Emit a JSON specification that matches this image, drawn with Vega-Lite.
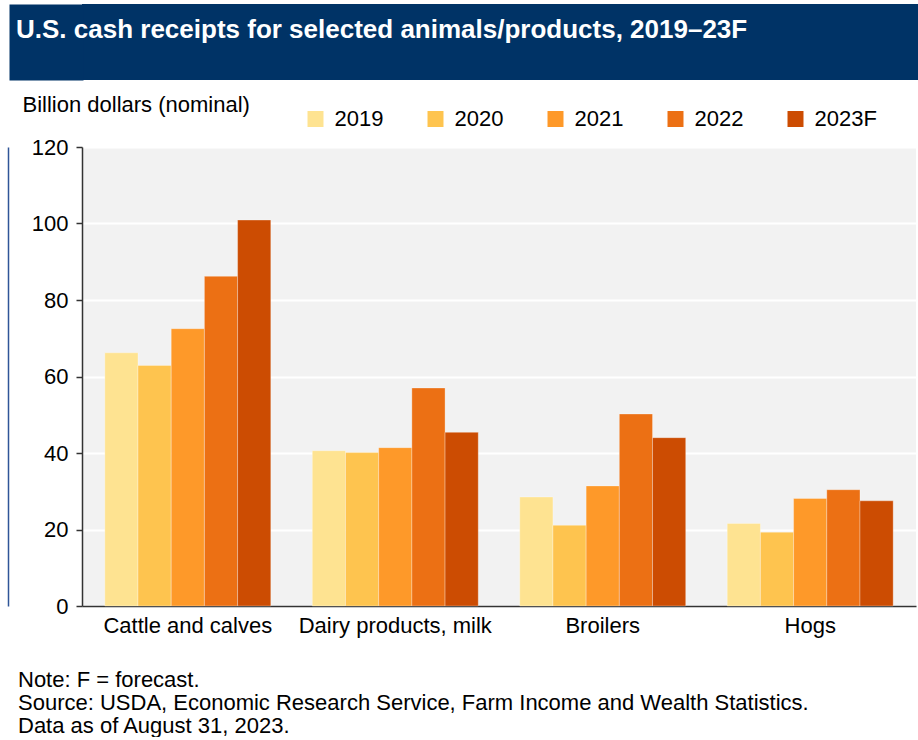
{
  "$schema": "https://vega.github.io/schema/vega-lite/v6.json",
  "padding": {"left": 8, "top": 4, "right": 0, "bottom": 0},
  "background": "white",
  "spacing": 13,
  "config": {"font": "Liberation Sans", "view": {"stroke": null}},
  "vconcat": [
    {
      "width": 836,
      "height": 76,
      "view": {"fill": "#003366", "stroke": null},
      "title": {
        "text": "U.S. cash receipts for selected animals/products, 2019–23F",
        "orient": "bottom", "anchor": "start", "frame": "group",
        "offset": -63, "dx": -66, "baseline": "top",
        "color": "white", "fontSize": 26, "fontWeight": "bold", "font": "Liberation Sans"
      },
      "data": {"values": []},
      "mark": "point",
      "encoding": {
        "y": {
          "field": "v", "type": "quantitative",
          "scale": {"domain": [0, 1]},
          "axis": {
            "orient": "left", "offset": 36,
            "domainColor": "#003366", "domainWidth": 74,
            "labels": false, "ticks": false, "grid": false, "title": null
          }
        }
      }
    },
    {
      "width": 834,
      "height": 459,
      "view": {"fill": "#F2F2F2", "stroke": null},
      "title": {
        "text": ["Note: F = forecast.", "Source: USDA, Economic Research Service, Farm Income and Wealth Statistics.", "Data as of August 31, 2023."],
        "orient": "bottom", "anchor": "start", "frame": "group",
        "offset": 34, "dx": -64, "baseline": "top", "lineHeight": 23,
        "color": "black", "fontSize": 22, "fontWeight": "normal", "font": "Liberation Sans"
      },
      "layer": [
        {
          "data": {
            "values": [
              {"cat": "Cattle and calves", "year": "2019", "v": 66.2},
              {"cat": "Cattle and calves", "year": "2020", "v": 62.9},
              {"cat": "Cattle and calves", "year": "2021", "v": 72.5},
              {"cat": "Cattle and calves", "year": "2022", "v": 86.2},
              {"cat": "Cattle and calves", "year": "2023F", "v": 100.9},
              {"cat": "Dairy products, milk", "year": "2019", "v": 40.6},
              {"cat": "Dairy products, milk", "year": "2020", "v": 40.1},
              {"cat": "Dairy products, milk", "year": "2021", "v": 41.4},
              {"cat": "Dairy products, milk", "year": "2022", "v": 57.0},
              {"cat": "Dairy products, milk", "year": "2023F", "v": 45.4},
              {"cat": "Broilers", "year": "2019", "v": 28.5},
              {"cat": "Broilers", "year": "2020", "v": 21.1},
              {"cat": "Broilers", "year": "2021", "v": 31.4},
              {"cat": "Broilers", "year": "2022", "v": 50.2},
              {"cat": "Broilers", "year": "2023F", "v": 44.0},
              {"cat": "Hogs", "year": "2019", "v": 21.6},
              {"cat": "Hogs", "year": "2020", "v": 19.3},
              {"cat": "Hogs", "year": "2021", "v": 28.1},
              {"cat": "Hogs", "year": "2022", "v": 30.4},
              {"cat": "Hogs", "year": "2023F", "v": 27.5}
            ]
          },
          "mark": {"type": "bar", "stroke": "white", "strokeOpacity": 0.3, "strokeWidth": 1},
          "encoding": {
            "x": {
              "field": "cat", "type": "nominal",
              "sort": ["Cattle and calves", "Dairy products, milk", "Broilers", "Hogs"],
              "scale": {"paddingInner": 0.2, "paddingOuter": 0.11},
              "axis": {
                "title": null, "labelAngle": 0, "ticks": false, "labelPadding": 9,
                "labelFontSize": 22, "labelColor": "black", "labelLimit": 0,
                "domainColor": "#333333", "domainWidth": 1.5, "grid": false
              }
            },
            "xOffset": {
              "field": "year", "type": "nominal",
              "sort": ["2019", "2020", "2021", "2022", "2023F"],
              "scale": {"paddingInner": 0, "paddingOuter": 0}
            },
            "y": {
              "field": "v", "type": "quantitative",
              "scale": {"domain": [0, 120], "nice": false},
              "axis": {
                "orient": "left",
                "values": [0, 20, 40, 60, 80, 100, 120],
                "title": "Billion dollars (nominal)",
                "titleAngle": 0, "titleAlign": "left", "titleBaseline": "top",
                "titleX": -60, "titleY": -52.5,
                "titleFontSize": 22, "titleFontWeight": "normal", "titleColor": "black",
                "labelFontSize": 22, "labelColor": "black", "labelPadding": 8,
                "tickSize": 6, "tickColor": "#333333", "tickWidth": 1.5,
                "domainColor": "#333333", "domainWidth": 1.5,
                "grid": true, "gridColor": "white", "gridWidth": 2
              }
            },
            "color": {
              "field": "year", "type": "nominal",
              "scale": {
                "domain": ["2019", "2020", "2021", "2022", "2023F"],
                "range": ["#fee391", "#fec44f", "#fe9929", "#ec7014", "#cc4c02"]
              },
              "legend": {
                "title": null, "orient": "none", "legendX": 222.5, "legendY": 104,
                "direction": "horizontal", "columns": 5, "gridAlign": "all",
                "columnPadding": 27, "padding": 0,
                "symbolType": "square", "symbolSize": 256, "symbolStrokeWidth": 0,
                "labelFontSize": 22, "labelOffset": 8, "labelColor": "black"
              }
            }
          }
        },
        {
          "data": {"values": []},
          "mark": "point",
          "encoding": {
            "y": {
              "field": "v", "type": "quantitative",
              "axis": {
                "orient": "left", "offset": 74,
                "domainColor": "#2F5597", "domainWidth": 1.5,
                "labels": false, "ticks": false, "grid": false, "title": null
              }
            }
          }
        }
      ],
      "resolve": {"axis": {"y": "independent"}}
    }
  ]
}
